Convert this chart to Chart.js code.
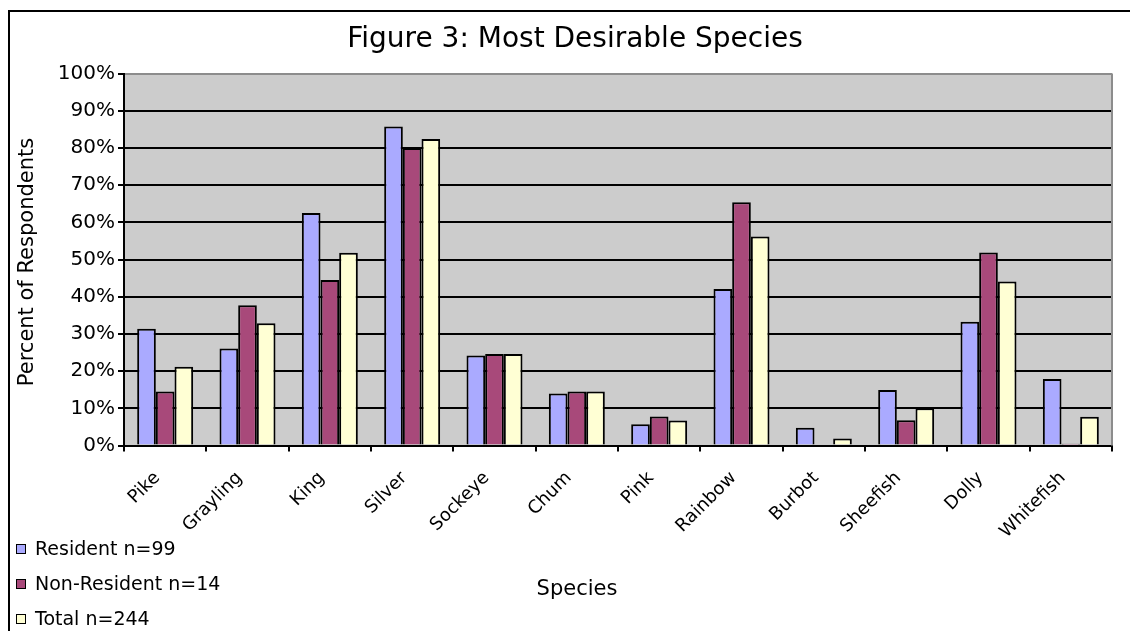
<!DOCTYPE html>
<html>
<head>
<meta charset="utf-8">
<title>Figure 3: Most Desirable Species</title>
<script src="https://cdn.jsdelivr.net/npm/chart.js@4/dist/chart.umd.min.js"></script>
<style>
    html, body { margin: 0; padding: 0; background: #fff; }
    #quadro { width: 1130px; height: 631px; position: relative; }
</style>
</head>
<body>
<div id="quadro"><canvas id="grafico-especies" width="1130" height="631"></canvas></div>
<script>
// DADOS
const especies = ['Pike', 'Grayling', 'King', 'Silver', 'Sockeye', 'Chum', 'Pink', 'Rainbow', 'Burbot', 'Sheefish', 'Dolly', 'Whitefish']
const residente = [31.4, 26.1, 62.5, 85.8, 24.2, 14.0, 5.7, 42.1, 4.8, 14.9, 33.3, 17.9]
const naoResidente = [14.5, 37.7, 44.5, 80.0, 24.6, 14.5, 7.8, 65.4, 0, 6.8, 51.9, 0.5]
const total = [21.2, 32.9, 51.8, 82.4, 24.6, 14.5, 6.7, 56.2, 1.9, 10.0, 44.1, 7.7]
const legendas = ['Resident n=99', 'Non-Resident n=14', 'Total n=244']
const yTicks = [0, 10, 20, 30, 40, 50, 60, 70, 80, 90, 100]

const fonte = "'DejaVu Sans', sans-serif"

// fundo cinza da area do grafico + moldura externa
const fundoPlugin = {
    id: 'fundo',
    beforeDraw(chart) {
        const { ctx, chartArea: a } = chart
        ctx.save()
        ctx.fillStyle = '#cccccc'
        ctx.fillRect(a.left, a.top, a.right - a.left, a.bottom - a.top)
        // moldura
        ctx.strokeStyle = '#000'
        ctx.lineWidth = 2
        ctx.beginPath()
        ctx.moveTo(1130, 11)
        ctx.lineTo(9, 11)
        ctx.lineTo(9, 631)
        ctx.stroke()
        ctx.restore()
    },
    afterDatasetsDraw(chart) {
        const { ctx, chartArea: a } = chart
        ctx.save()
        ctx.strokeStyle = '#8c8c8c'
        ctx.lineWidth = 2
        ctx.beginPath()
        ctx.moveTo(a.right, a.top)
        ctx.lineTo(a.right, a.bottom)
        ctx.stroke()
        ctx.restore()
    }
}

// titulos dos eixos e legenda vertical
const textosPlugin = {
    id: 'textos',
    afterDraw(chart) {
        const { ctx } = chart
        ctx.save()
        ctx.fillStyle = '#000'
        ctx.font = '21px ' + fonte
        ctx.textAlign = 'center'
        ctx.textBaseline = 'middle'
        ctx.fillText('Species', 577, 590)

        ctx.save()
        ctx.translate(28, 262)
        ctx.rotate(-Math.PI / 2)
        ctx.fillText('Percent of Respondents', 0, 0)
        ctx.restore()

        const ys = [549, 584, 619]
        ctx.font = '19px ' + fonte
        ctx.textAlign = 'left'
        chart.data.datasets.forEach(function(ds, i) {
            ctx.fillStyle = ds.backgroundColor
            ctx.fillRect(16, ys[i] - 5, 10, 10)
            ctx.strokeStyle = '#000'
            ctx.lineWidth = 1
            ctx.strokeRect(16.5, ys[i] - 4.5, 9, 9)
            ctx.fillStyle = '#000'
            ctx.fillText(legendas[i], 35, ys[i] + 1)
        })
        ctx.restore()
    }
}

const ctx = document.getElementById('grafico-especies').getContext('2d')

function serie(label, cor, dados) {
    return {
        label: label,
        data: dados,
        backgroundColor: cor,
        borderColor: '#000',
        borderWidth: 2,
        barPercentage: 1.0,
        categoryPercentage: 0.68
    }
}

const grafico = new Chart(ctx, {
    type: 'bar',
    data: {
        labels: especies,
        datasets: [
            serie(legendas[0], '#aaaaff', residente),
            serie(legendas[1], '#a8497a', naoResidente),
            serie(legendas[2], '#ffffd4', total)
        ]
    },
    options: {
        responsive: false,
        animation: false,
        layout: {
            padding: { left: 38, right: 18, top: 0, bottom: 28 }
        },
        scales: {
            x: {
                grid: {
                    offset: true,
                    drawOnChartArea: false,
                    drawTicks: true,
                    tickLength: 6,
                    color: '#000',
                    lineWidth: 2
                },
                border: { color: '#000', width: 2 },
                ticks: {
                    color: '#000',
                    font: { family: fonte, size: 18 },
                    minRotation: 45,
                    maxRotation: 45,
                    autoSkip: false,
                    padding: 16,
                    labelOffset: -8
                },
                afterFit(scale) { scale.height = 157.5 }
            },
            y: {
                min: 0,
                max: 100,
                afterBuildTicks(scale) {
                    scale.ticks = yTicks.map(v => ({ value: v }))
                },
                grid: {
                    color: c => (c.tick && c.tick.value === 100) ? '#8c8c8c' : '#000',
                    lineWidth: 2,
                    tickLength: 6,
                    tickColor: '#000'
                },
                border: { color: '#000', width: 2 },
                ticks: {
                    color: '#000',
                    font: { family: fonte, size: 20 },
                    padding: 3,
                    callback: v => v + '%'
                },
                afterFit(scale) { scale.width = 86 }
            }
        },
        plugins: {
            legend: { display: false },
            tooltip: { enabled: false },
            title: {
                display: true,
                text: 'Figure 3: Most Desirable Species',
                color: '#000',
                font: { family: fonte, size: 28, weight: 'normal', lineHeight: 1.2 },
                padding: { top: 23, bottom: 17 }
            }
        }
    },
    plugins: [fundoPlugin, textosPlugin]
})
</script>
</body>
</html>
